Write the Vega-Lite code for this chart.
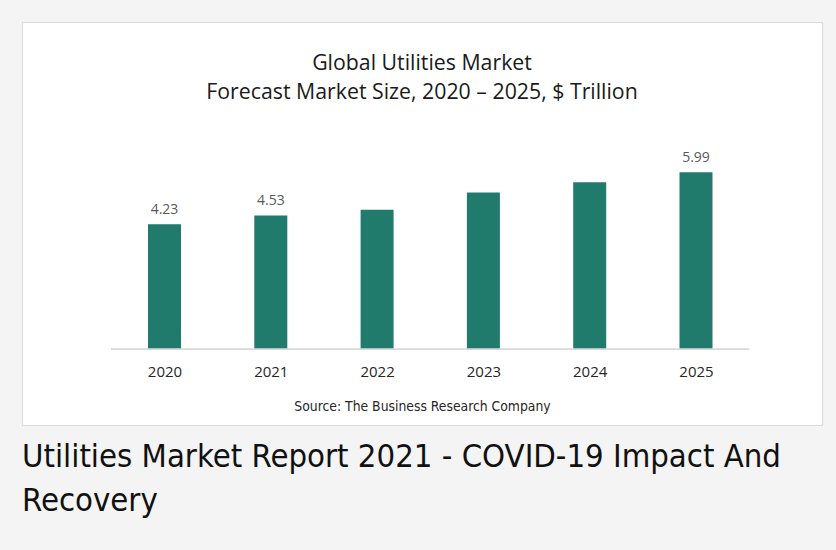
{
  "$schema": "https://vega.github.io/schema/vega-lite/v6.json",
  "width": 800,
  "height": 403,
  "autosize": "none",
  "padding": {"left": 22, "top": 22, "right": 14, "bottom": 125},
  "background": "#f4f4f4",
  "title": {
    "text": ["Global Utilities Market", "Forecast Market Size, 2020 – 2025, $ Trillion"],
    "anchor": "middle",
    "offset": -81,
    "fontSize": 21.3,
    "font": "Open Sans",
    "fontWeight": "normal",
    "color": "#1a1a1a",
    "lineHeight": 29
  },
  "data": {
    "values": [
      {"year": 2020, "value": 4.23},
      {"year": 2021, "value": 4.53},
      {"year": 2022, "value": 4.72},
      {"year": 2023, "value": 5.31},
      {"year": 2024, "value": 5.65},
      {"year": 2025, "value": 5.99}
    ]
  },
  "layer": [
    {
      "mark": {"type": "bar", "size": 33, "color": "#217b6c"},
      "encoding": {
        "x": {
          "field": "year",
          "type": "quantitative",
          "scale": {"domain": [2018.6595, 2026.1853], "nice": false, "zero": false, "padding": 0},
          "axis": {
            "values": [2020, 2021, 2022, 2023, 2024, 2025],
            "format": "d",
            "offset": -75.7,
            "domain": false,
            "ticks": false,
            "grid": false,
            "labelPadding": 15,
            "labelFont": "Open Sans",
            "labelFontSize": 15,
            "labelColor": "#262626",
            "labelFlush": false,
            "labelOverlap": false,
            "title": "Source: The Business Research Company",
            "titleFont": "'DejaVu Sans Condensed', Roboto, sans-serif",
            "titleFontSize": 13.8,
            "titleFontWeight": "normal",
            "titleColor": "#262626",
            "titlePadding": 20
          }
        },
        "y": {
          "field": "value",
          "type": "quantitative",
          "scale": {"domain": [-2.562, 11.076], "nice": false, "zero": false, "padding": 0},
          "axis": null
        },
        "y2": {"datum": 0}
      }
    },
    {
      "transform": [{"filter": {"field": "year", "oneOf": [2020, 2021, 2025]}}],
      "mark": {"type": "text", "baseline": "bottom", "dy": -7, "font": "Open Sans", "fontSize": 14, "color": "#595959"},
      "encoding": {
        "x": {"field": "year", "type": "quantitative"},
        "y": {"field": "value", "type": "quantitative"},
        "text": {"field": "value", "type": "quantitative", "format": ".2f"}
      }
    },
    {
      "mark": {"type": "rule", "color": "#d9d9d9", "strokeWidth": 1},
      "encoding": {
        "x": {"datum": 2019.5},
        "x2": {"datum": 2025.5},
        "y": {"datum": 0}
      }
    },
    {
      "data": {"values": [{"caption": "Utilities Market Report 2021 - COVID-19 Impact And\nRecovery"}]},
      "mark": {"type": "text", "align": "left", "baseline": "top", "lineBreak": "\n", "lineHeight": 44, "font": "'DejaVu Sans Condensed', Roboto, sans-serif", "fontSize": 32.6, "color": "#111111", "clip": false},
      "encoding": {
        "x": {"datum": 2018.6595},
        "y": {"datum": -3.1},
        "text": {"field": "caption", "type": "nominal"}
      }
    }
  ],
  "config": {
    "view": {"fill": "#ffffff", "stroke": "#d9d9d9", "strokeWidth": 1}
  }
}
